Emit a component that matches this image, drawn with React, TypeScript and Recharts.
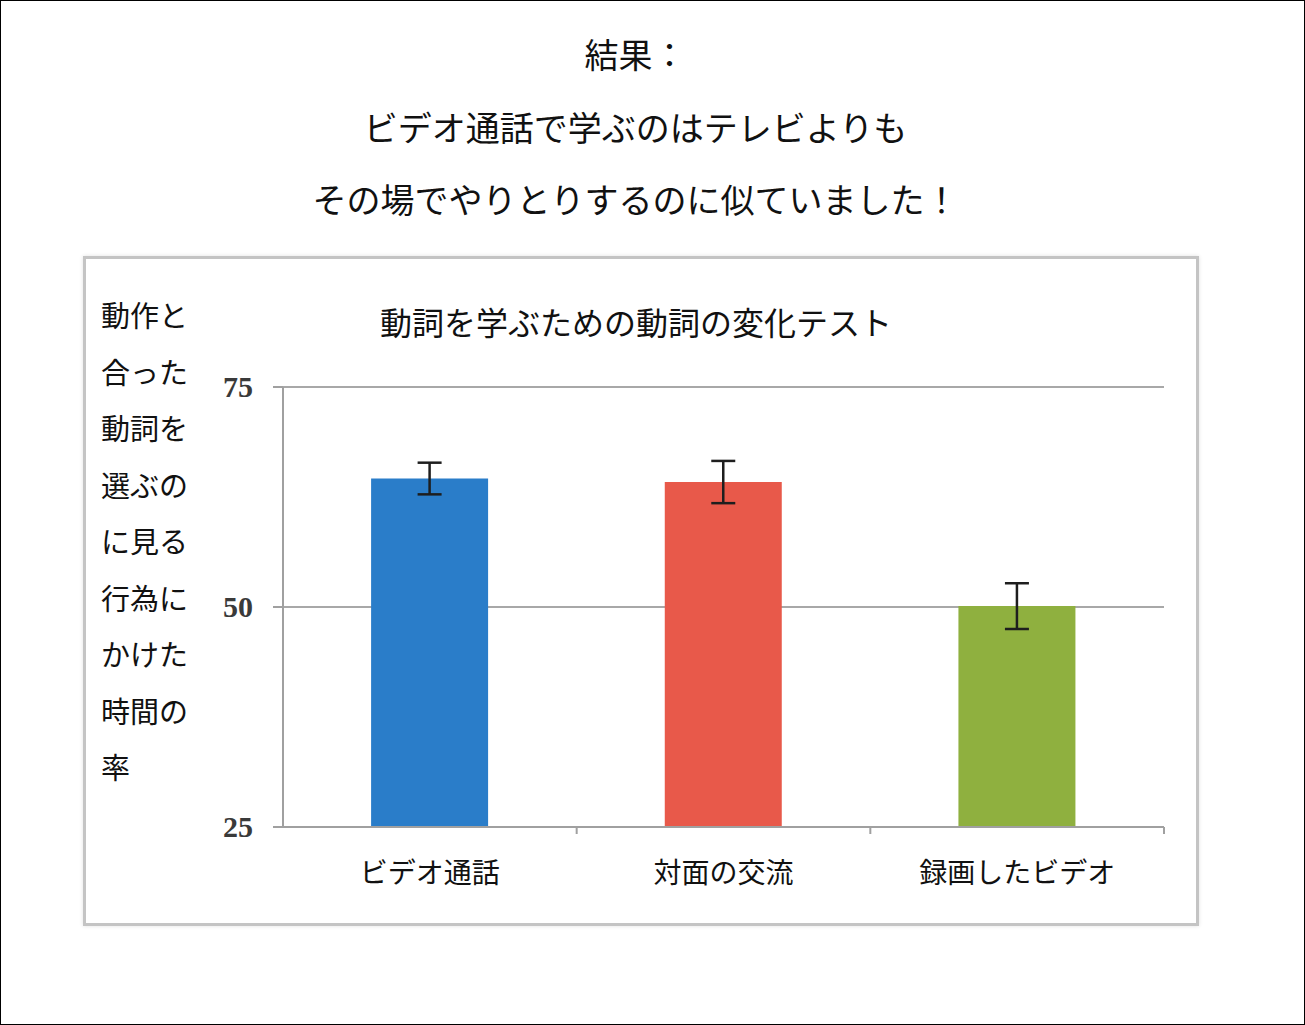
import React from 'react';
import { BarChart, Bar, XAxis, YAxis, CartesianGrid, ErrorBar, Cell } from 'recharts';

const titleLines = ['結果：', 'ビデオ通話で学ぶのはテレビよりも', 'その場でやりとりするのに似ていました！'];
const chartTitle = '動詞を学ぶための動詞の変化テスト';
const yLabelLines = ['動作と', '合った', '動詞を', '選ぶの', 'に見る', '行為に', 'かけた', '時間の', '率'];

const categories = ['ビデオ通話', '対面の交流', '録画したビデオ'];
const scores = [64.6, 64.2, 50.1];
const errors = [1.8, 2.4, 2.6];
const barColors = ['#2a7dc9', '#e8594a', '#8fb03f'];
const yTicks = [25, 50, 75];

const data = categories.map((name, i) => ({ name, score: scores[i], err: errors[i] }));

const JP = '"Noto Sans CJK JP", "Noto Sans", sans-serif';
const X_TICK_MARGIN = 29;

const YTick = (props: any) => {
  const { x, y, payload } = props;
  return (
    <text x={x} y={y} dy={10} textAnchor="end" fontSize={30} fontWeight={600} fill="#3a3a3a" fontFamily='"Liberation Serif", serif'>
      {payload.value}
    </text>
  );
};

// category label plus a tick mark on the band's right edge
const XTick = (props: any) => {
  const { x, y, payload } = props;
  const half = payload.offset || 0;
  const axisY = y - X_TICK_MARGIN;
  return (
    <g>
      <line x1={x + half} x2={x + half} y1={axisY} y2={axisY + 7} stroke="#a0a0a0" strokeWidth={2} />
      <text x={x} y={y} dy={27} textAnchor="middle" fontSize={28} fill="#111" fontFamily={JP}>
        {payload.value}
      </text>
    </g>
  );
};

export default function App() {
  return (
    <div style={{ position: 'relative', width: 1305, height: 1025, boxSizing: 'border-box', border: '1px solid #000', background: '#fff', fontFamily: JP, overflow: 'hidden' }}>
      <style>{'body{margin:0}'}</style>
      {titleLines.map((t, i) => (
        <div key={i} style={{ position: 'absolute', left: -18, width: 1305, top: 28 + i * 72.5, textAlign: 'center', fontSize: 34, lineHeight: '50px', color: '#111' }}>{t}</div>
      ))}
      <div style={{ position: 'absolute', left: 82, top: 255, width: 1116, height: 670, boxSizing: 'border-box', border: '3px solid #c4c4c4', boxShadow: '0 0 4px rgba(0,0,0,0.12)' }} />
      <div style={{ position: 'absolute', left: 300, width: 670, top: 298, textAlign: 'center', fontSize: 32, lineHeight: '44px', color: '#111' }}>{chartTitle}</div>
      {yLabelLines.map((t, i) => (
        <div key={i} style={{ position: 'absolute', left: 100, top: 292 + i * 56.5, fontSize: 29, lineHeight: '42px', color: '#111' }}>{t}</div>
      ))}
      <div style={{ position: 'absolute', left: 0, top: 0 }}>
        <BarChart width={1305} height={1025} data={data} margin={{ top: 386, right: 142, left: 222, bottom: 139 }} barCategoryGap="30%">
          <CartesianGrid horizontal vertical={false} stroke="#a8a8a8" strokeWidth={2} />
          <XAxis dataKey="name" height={60} interval={0} stroke="#a0a0a0" strokeWidth={2} tickLine={false} tickSize={0} tickMargin={X_TICK_MARGIN} tick={<XTick />} />
          <YAxis domain={[25, 75]} ticks={yTicks} width={60} tickSize={10} tickMargin={20} stroke="#a0a0a0" strokeWidth={2} tick={<YTick />} />
          <Bar dataKey="score" isAnimationActive={false}>
            {data.map((d, i) => (
              <Cell key={d.name} fill={barColors[i]} />
            ))}
            <ErrorBar dataKey="err" width={12} stroke="#1e1e1e" strokeWidth={2.5} isAnimationActive={false} />
          </Bar>
        </BarChart>
      </div>
    </div>
  );
}
